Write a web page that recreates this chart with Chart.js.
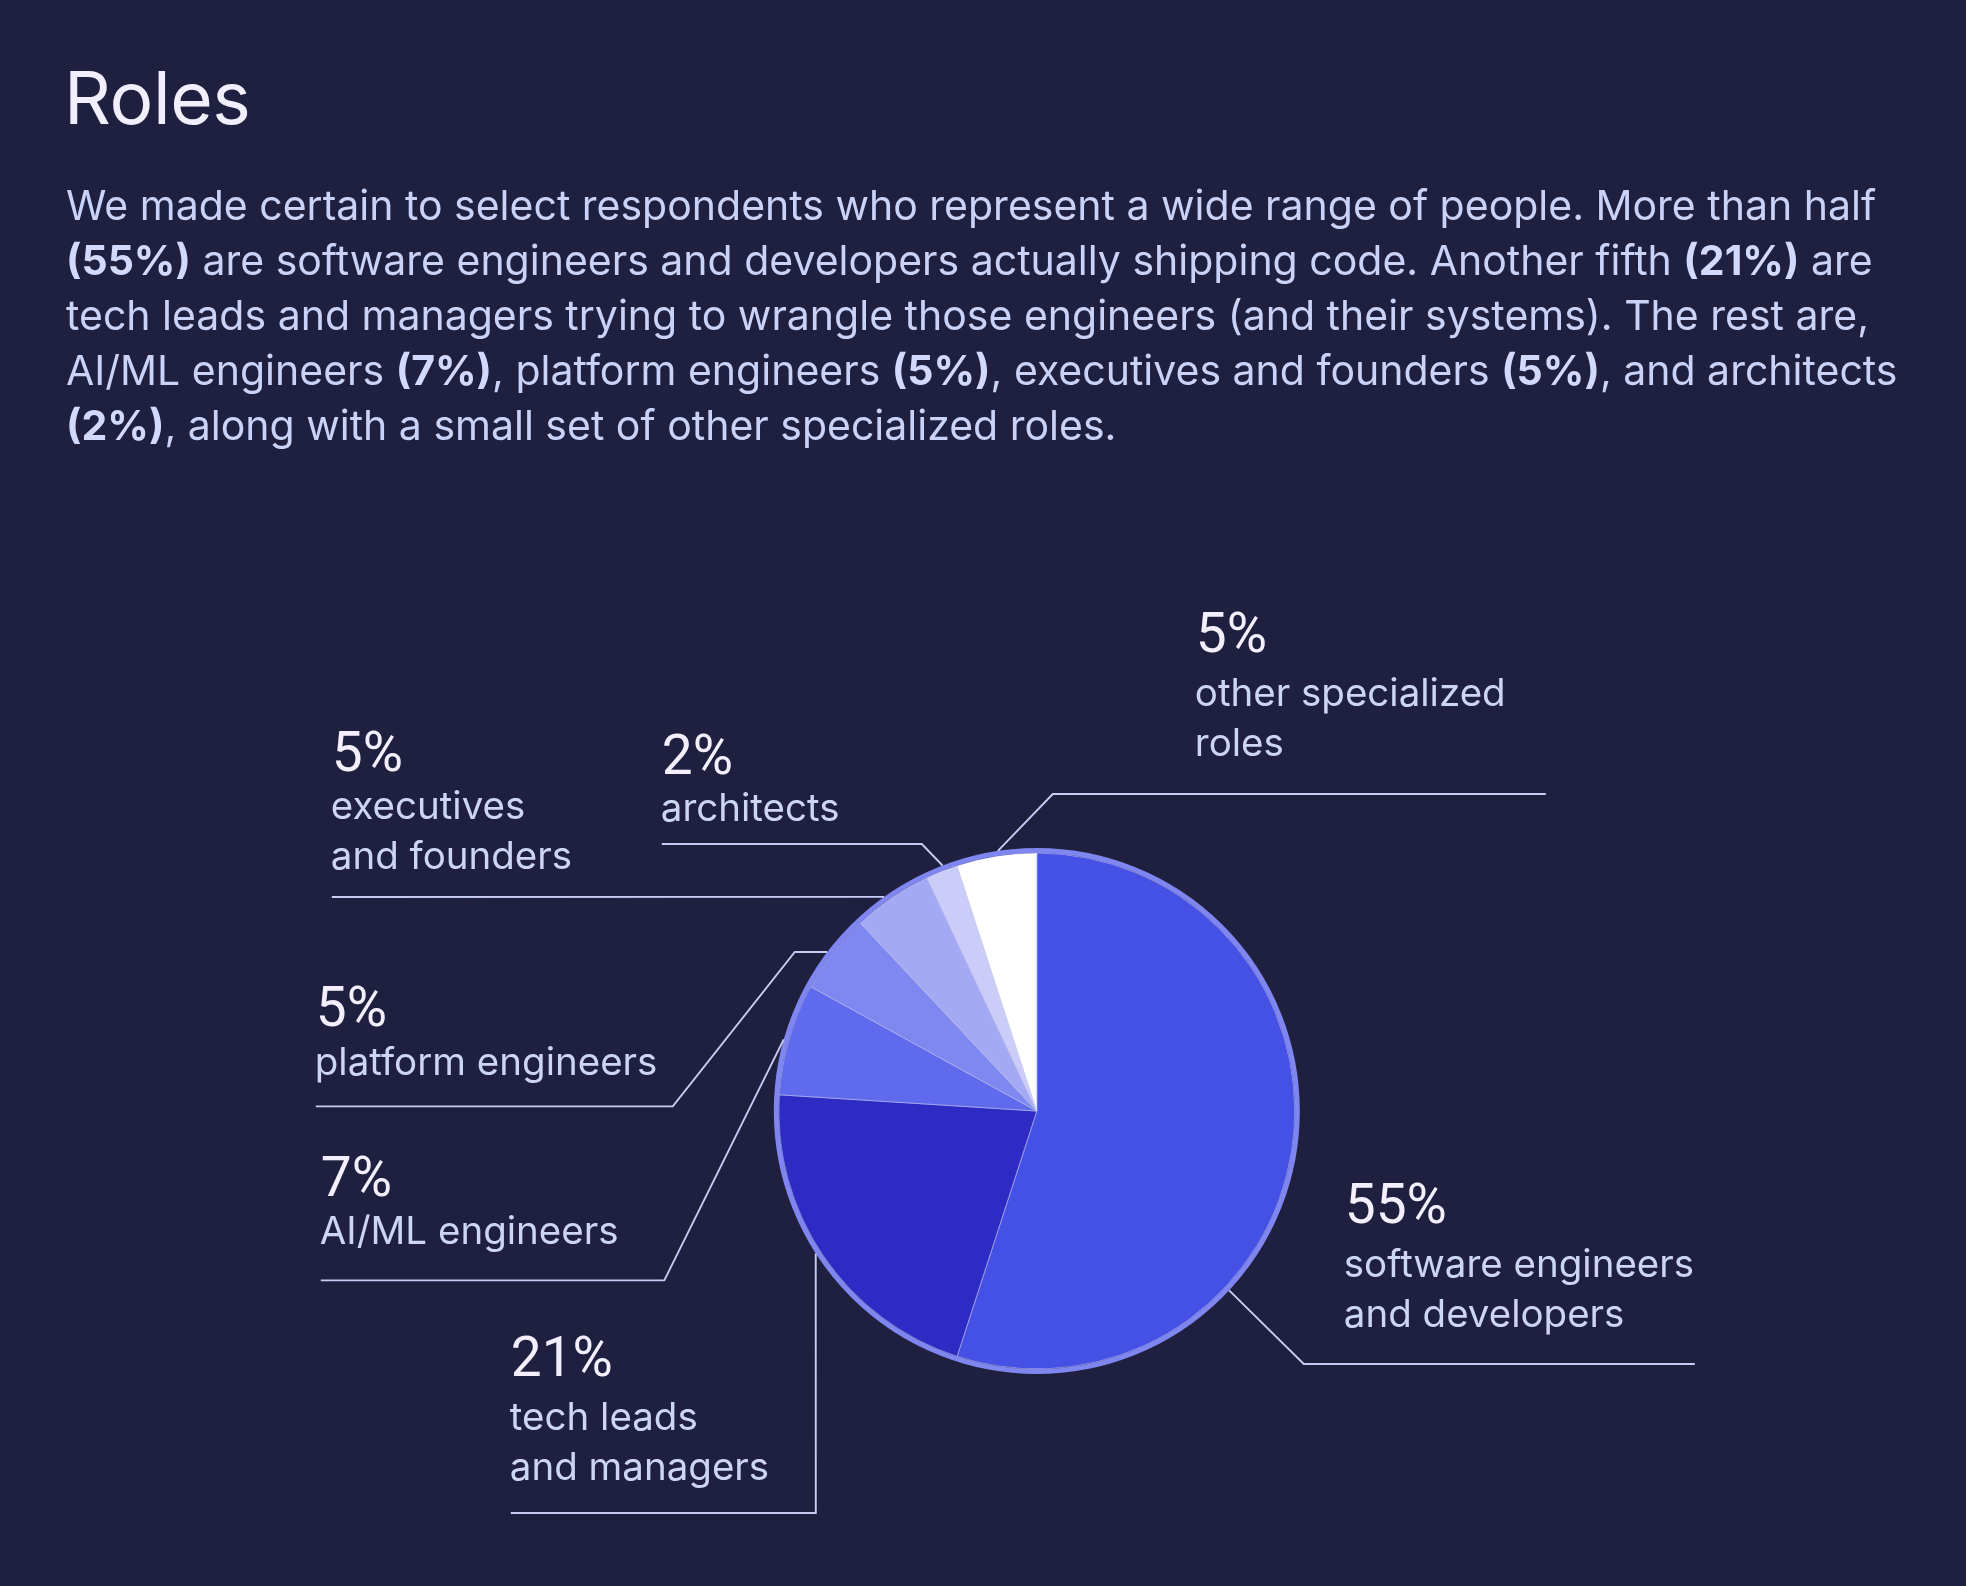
<!DOCTYPE html>
<html><head><meta charset="utf-8">
<script src="https://cdn.jsdelivr.net/npm/chart.js@4/dist/chart.umd.min.js"></script>
<style>
html,body{margin:0;padding:0;background:#1f2040;width:1966px;height:1586px;overflow:hidden;}
#wrap{position:absolute;left:0;top:0;width:1966px;height:1586px;}
#title{position:absolute;left:64px;top:61px;margin:0;font:400 73px/73px Inter, sans-serif;color:#f1eefd;letter-spacing:-0.4px;}
#desc{position:absolute;left:66px;top:178px;margin:0;font:400 41px/55px Inter, sans-serif;color:#cad2f8;white-space:nowrap;}
#desc b{font-weight:700;color:#d3d9fc;}
</style></head>
<body>
<div id="wrap"><canvas id="c" width="1966" height="1586"></canvas></div>
<h1 id="title">Roles</h1>
<p id="desc">We made certain to select respondents who represent a wide range of people. More than half<br><b>(55%)</b> are software engineers and developers actually shipping code. Another fifth <b>(21%)</b> are<br>tech leads and managers trying to wrangle those engineers (and their systems). The rest are,<br>AI/ML engineers <b>(7%)</b>, platform engineers <b>(5%)</b>, executives and founders <b>(5%)</b>, and architects<br><b>(2%)</b>, along with a small set of other specialized roles.</p>
<script>
// ---- data ----
const categories = ["software engineers and developers","tech leads and managers","AI/ML engineers","platform engineers","executives and founders","architects","other specialized roles"];
const shares = [55, 21, 7, 5, 5, 2, 5];
const labelLines = [
  ["software engineers","and developers"],
  ["tech leads","and managers"],
  ["AI/ML engineers"],
  ["platform engineers"],
  ["executives","and founders"],
  ["architects"],
  ["other specialized","roles"]
];
// ---- styles / layout ----
const sliceColors = ["#4550e5","#2e2bc4","#5f6aed","#7f87f0","#a4a9f4","#cbcdf8","#ffffff"];
const RING_W = 5, RING_COLOR = "#7f86ef";
const LEADER_COLOR = "#c6ccf3";
// offsets from pie centre: label x, percent baseline, gap to first name line, leader path, anchor angle on rim (deg clockwise from top)
const labelLayout = [
  {lx:308,  py:111.6, gap:54, path:[[658,253],[267,253]], anchor:133},
  {lx:-526, py:264.7, gap:54, path:[[-526,402],[-221,402]], anchor:237.2},
  {lx:-716, py:85.4,  gap:48, path:[[-716,169.4],[-372.5,169.4]], anchor:285.8},
  {lx:-721, py:-85,   gap:49, path:[[-721,-4.6],[-364,-4.6],[-242,-159]], anchor:307.2},
  {lx:-705, py:-340,  gap:48, path:[[-705,-214]], anchor:324.5},
  {lx:-375, py:-337,  gap:47, path:[[-375,-267],[-115,-267]], anchor:339},
  {lx:159,  py:-459,  gap:54, path:[[509,-317],[16,-317]], anchor:351.5}
];

const ringPlugin = {
  id:'ring',
  afterDatasetsDraw(chart){
    const arc = chart.getDatasetMeta(0).data[0];
    const ctx = chart.ctx;
    ctx.save();
    ctx.beginPath();
    ctx.arc(arc.x, arc.y, arc.outerRadius + RING_W/2, 0, Math.PI*2);
    ctx.strokeStyle = RING_COLOR; ctx.lineWidth = RING_W; ctx.stroke();
    ctx.restore();
  }
};
const labelPlugin = {
  id:'roleLabels',
  afterDraw(chart){
    const meta = chart.getDatasetMeta(0);
    const arc = meta.data[0];
    const cx = arc.x, cy = arc.y, R = arc.outerRadius + RING_W;
    const ctx = chart.ctx;
    ctx.save();
    labelLayout.forEach((L, i) => {
      // leader
      const t = L.anchor * Math.PI/180;
      const ex = cx + R*Math.sin(t), ey = cy - R*Math.cos(t);
      ctx.beginPath();
      ctx.moveTo(cx + L.path[0][0], cy + L.path[0][1]);
      for (let k=1;k<L.path.length;k++) ctx.lineTo(cx + L.path[k][0], cy + L.path[k][1]);
      ctx.lineTo(ex, ey);
      ctx.strokeStyle = LEADER_COLOR; ctx.lineWidth = 1.9; ctx.lineJoin='miter'; ctx.stroke();
      // text
      ctx.textBaseline = 'alphabetic'; ctx.textAlign = 'left';
      ctx.fillStyle = '#f3effd';
      ctx.font = '400 55px Roboto';
      ctx.fillText(shares[i] + '%', cx + L.lx, cy + L.py);
      ctx.fillStyle = '#cdd5f7';
      ctx.font = '400 38.5px Inter';
      labelLines[i].forEach((s, j) => {
        ctx.fillText(s, cx + L.lx - 1, cy + L.py + L.gap + j*50);
      });
    });
    ctx.restore();
  }
};

new Chart(document.getElementById('c'), {
  type:'pie',
  data:{
    labels: categories,
    datasets:[{
      data: shares,
      backgroundColor: sliceColors,
      borderColor: 'rgba(205,210,250,0.55)',
      borderWidth: 1,
      hoverOffset: 0,
      radius: 258
    }]
  },
  options:{
    responsive:false,
    animation:false,
    layout:{padding:{left:776, right:668.4, top:850, bottom:214}},
    plugins:{legend:{display:false}, tooltip:{enabled:false}, title:{display:false}}
  },
  plugins:[ringPlugin, labelPlugin]
});
</script>
</body></html>
